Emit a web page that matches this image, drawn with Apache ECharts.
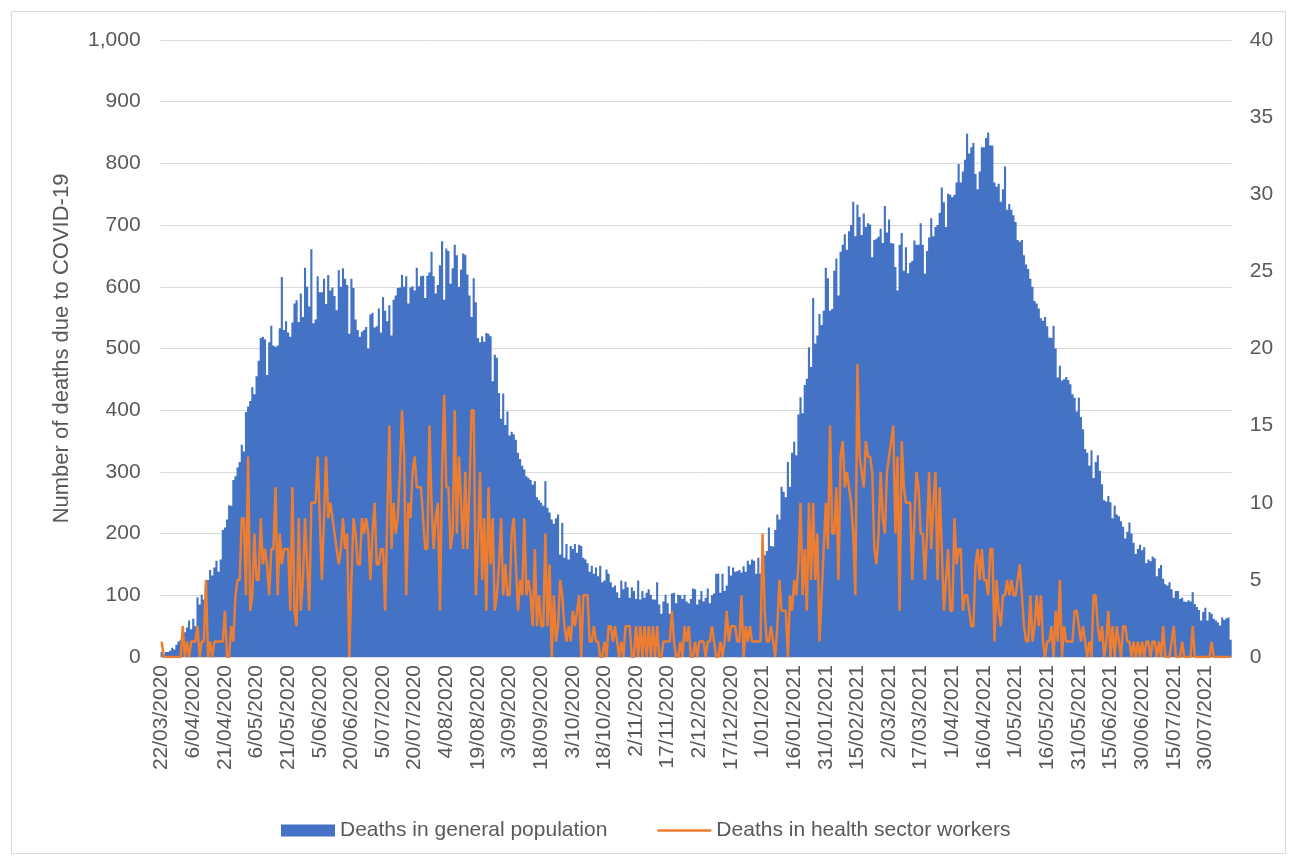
<!DOCTYPE html>
<html>
<head>
<meta charset="utf-8">
<script src="https://cdn.jsdelivr.net/npm/echarts@6/dist/echarts.min.js"></script>
<style>
html,body{margin:0;padding:0;background:#fff;}
#chart{width:1292px;height:861px;}
</style>
</head>
<body>
<div id="chart"></div>
<script>
// First day of the daily series and tick settings
const startDay = [2020, 3, 22];
const leftTicks = [0, 1000, 100];
const rightTicks = [0, 40, 5];

// Deaths in general population (daily)
const generalDeaths = [
8,5,8,8,10,15,12,20,25,28,
35,40,48,59,45,62,50,97,85,101,
93,110,125,141,132,145,156,138,158,206,
210,223,246,245,287,293,307,316,344,333,
397,406,415,437,426,455,480,517,519,515,
457,510,537,505,503,505,533,616,530,544,
526,519,542,573,578,543,589,551,631,600,
568,661,541,547,617,591,591,613,572,619,
594,599,585,562,627,600,630,613,603,524,
613,598,547,530,519,527,530,535,500,555,
558,534,536,565,526,583,561,544,570,521,
579,586,598,599,619,600,617,573,599,601,
594,631,601,617,618,582,618,623,657,617,
589,603,635,674,579,662,658,605,630,668,
651,600,628,654,652,620,586,551,614,575,
517,510,520,511,525,524,520,447,490,485,
428,386,427,376,398,359,365,361,352,331,
321,310,304,293,290,287,279,285,259,254,
250,245,285,242,234,223,216,225,231,166,
217,161,183,158,180,175,183,169,182,180,
161,158,152,138,148,135,145,131,148,121,
124,142,135,121,113,116,105,96,124,110,
122,113,96,113,107,94,124,93,107,96,
104,110,101,93,93,121,85,70,90,101,
87,70,103,104,87,101,100,94,101,90,
87,94,111,110,85,93,107,90,96,111,
87,100,103,135,135,104,135,107,116,147,
132,145,138,139,141,137,147,138,156,150,
158,156,135,161,135,150,165,172,210,180,
179,206,231,223,276,268,259,316,276,331,
349,327,393,421,395,441,451,502,470,582,
508,521,556,538,561,631,614,561,564,626,
646,586,657,668,685,660,690,700,738,682,
733,713,684,719,697,703,701,648,676,678,
681,694,671,731,688,709,671,670,632,594,
668,687,626,664,622,639,642,675,668,668,
703,668,621,658,680,711,682,697,700,720,
761,737,697,751,749,745,749,769,799,769,
787,806,848,816,826,833,783,758,787,826,
826,841,850,829,829,769,762,767,738,758,
795,725,734,725,716,705,676,673,676,651,
636,629,613,600,577,573,565,549,545,551,
536,518,517,537,500,453,472,448,450,454,
449,442,426,420,398,420,389,369,337,331,
310,335,290,316,327,302,280,254,252,261,
251,225,245,231,228,220,211,192,203,218,
200,185,167,175,182,173,178,152,158,155,
163,160,131,144,149,127,118,116,121,110,
96,107,107,94,96,90,89,92,90,105,
86,81,76,59,73,80,59,73,70,62,
59,56,51,64,60,63,64,28
];

// Deaths in health sector workers (daily)
const healthDeaths = [
1,0,0,0,0,0,0,0,0,0,
2,0,1,0,1,1,1,2,0,1,
1,5,0,1,0,1,1,1,1,1,
3,0,0,2,1,4,5,5,9,9,
4,13,3,4,8,5,5,9,6,7,
6,4,7,7,11,4,8,6,7,7,
7,3,11,3,2,9,3,5,9,6,
3,10,10,10,13,9,5,9,13,9,
10,9,8,7,6,7,9,7,8,0,
5,9,8,6,6,9,8,9,8,5,
8,10,6,6,7,7,3,9,15,7,
10,8,9,12,16,13,4,10,9,12,
13,11,11,11,9,7,7,15,10,7,
9,10,3,12,17,11,11,7,8,16,
8,13,10,7,12,7,11,16,16,4,
7,12,5,9,3,11,6,9,3,4,
6,9,4,6,4,4,8,9,6,3,
5,4,9,4,5,4,2,7,2,4,
2,2,8,2,6,0,4,1,2,5,
4,2,1,2,1,3,2,3,4,0,
4,4,4,1,1,2,1,1,0,0,
1,0,2,2,1,2,1,0,1,0,
2,2,2,0,0,2,0,2,0,2,
0,2,0,2,0,2,0,0,1,1,
1,1,3,1,0,0,1,0,2,1,
2,0,0,1,0,1,1,1,0,1,
1,2,1,0,0,1,0,1,3,1,
2,2,2,1,1,4,0,2,1,2,
1,1,1,1,1,8,3,1,1,2,
1,0,2,5,3,3,3,0,4,3,
5,4,6,10,4,7,3,10,5,10,
5,8,1,4,7,10,7,15,8,8,
11,5,13,14,11,12,11,10,8,4,
19,13,12,11,14,13,13,12,7,6,
8,12,9,8,12,13,14,15,8,13,
3,14,11,10,10,10,5,9,12,11,
8,8,5,8,12,7,10,12,5,11,
7,3,5,7,3,3,9,6,7,7,
3,4,4,3,2,2,6,7,5,7,
5,5,4,7,7,1,5,3,2,4,
4,5,4,5,4,4,5,6,4,2,
1,1,4,1,2,4,2,4,1,0,
1,1,2,0,3,1,5,0,2,1,
1,1,1,3,3,2,1,2,1,0,
1,0,4,4,2,1,2,0,1,3,
0,2,0,2,1,0,2,2,1,1,
0,1,0,1,0,1,0,1,1,0,
1,1,0,1,0,2,0,0,0,1,
2,0,0,0,1,0,0,0,0,2,
0,0,0,0,0,0,0,0,1,0,
0,0,0,0,0,0,0,0
];

const seriesNames = ['Deaths in general population', 'Deaths in health sector workers'];
const yAxisTitle = 'Number of deaths due to COVID-19';

// Category labels: one per day, d/mm/yyyy
const categories = [];
for (let i = 0; i < generalDeaths.length; i++) {
  const d = new Date(Date.UTC(startDay[0], startDay[1] - 1, startDay[2] + i));
  const mm = String(d.getUTCMonth() + 1).padStart(2, '0');
  categories.push(d.getUTCDate() + '/' + mm + '/' + d.getUTCFullYear());
}

const FONT = 'Liberation Sans';
const TXT = '#595959';
const BLUE = '#4472C4';
const ORANGE = '#ED7D31';
const chart = echarts.init(document.getElementById('chart'), null, {renderer: 'canvas'});
chart.setOption({
  animation: false,
  backgroundColor: '#ffffff',
  textStyle: {fontFamily: FONT, color: TXT},
  graphic: [{
    type: 'rect', left: 9, top: 9, silent: true,
    shape: {width: 1274, height: 842},
    style: {fill: 'none', stroke: '#d9d9d9', lineWidth: 1}
  }],
  grid: {left: 160.6, right: 60.3, top: 40, bottom: 204, containLabel: false},
  legend: {
    left: 276, top: 815,
    itemWidth: 54, itemHeight: 12, itemGap: 50,
    textStyle: {fontFamily: FONT, fontSize: 21, color: TXT},
    data: [
      {name: seriesNames[0], icon: 'rect'},
      {name: seriesNames[1], icon: 'path://M0,0H54V2.5H0Z'}
    ]
  },
  xAxis: {
    type: 'category',
    data: categories,
    boundaryGap: true,
    axisLine: {lineStyle: {color: '#d9d9d9', width: 1}},
    axisTick: {show: false},
    axisLabel: {interval: 14, rotate: 90, margin: 8, fontSize: 21, color: TXT, fontFamily: FONT},
    splitLine: {show: false}
  },
  yAxis: [{
    type: 'value',
    min: leftTicks[0], max: leftTicks[1], interval: leftTicks[2],
    name: yAxisTitle, nameLocation: 'middle', nameGap: 88,
    nameTextStyle: {fontSize: 22, color: TXT, fontFamily: FONT},
    axisLine: {show: false}, axisTick: {show: false},
    axisLabel: {margin: 20, fontSize: 21, color: TXT, fontFamily: FONT,
      formatter: v => v.toLocaleString('en-US')},
    splitLine: {lineStyle: {color: '#d9d9d9', width: 1}}
  }, {
    type: 'value',
    min: rightTicks[0], max: rightTicks[1], interval: rightTicks[2],
    axisLine: {show: false}, axisTick: {show: false},
    axisLabel: {margin: 18, fontSize: 21, color: TXT, fontFamily: FONT},
    splitLine: {show: false}
  }],
  series: [{
    name: seriesNames[0],
    type: 'bar',
    data: generalDeaths,
    yAxisIndex: 0,
    barCategoryGap: '0%',
    large: true,
    largeThreshold: 100,
    itemStyle: {color: BLUE}
  }, {
    name: seriesNames[1],
    type: 'line',
    data: healthDeaths,
    yAxisIndex: 1,
    symbol: 'none',
    showSymbol: false,
    lineStyle: {color: ORANGE, width: 2.5},
    itemStyle: {color: ORANGE}
  }]
});
</script>
</body>
</html>
